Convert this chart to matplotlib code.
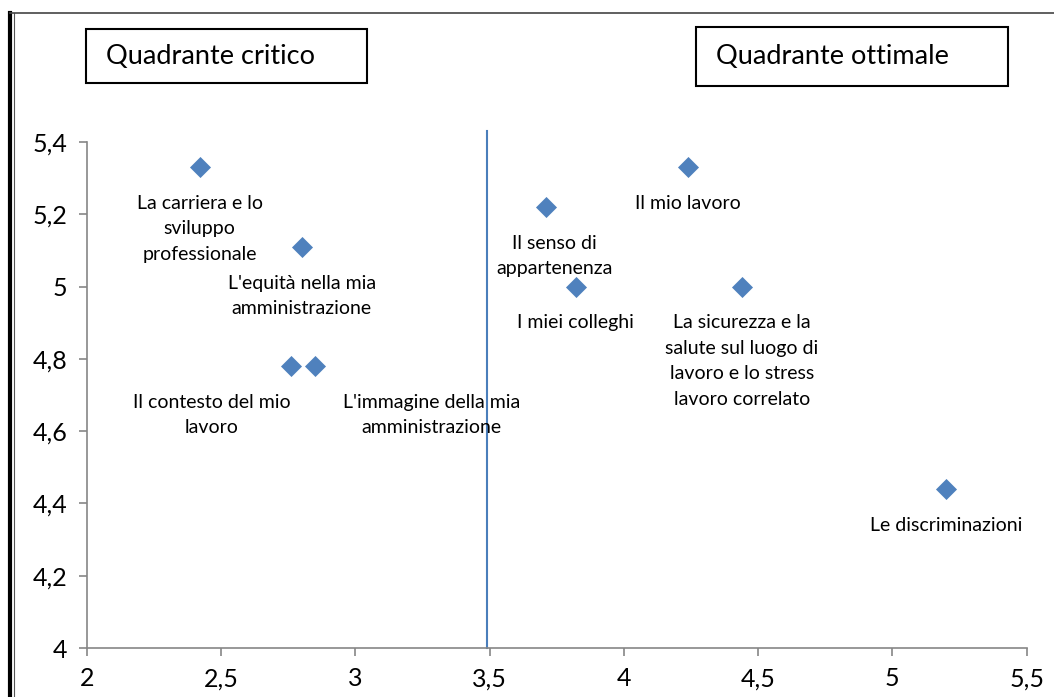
import matplotlib.pyplot as plt
from matplotlib.lines import Line2D
from matplotlib.patches import Rectangle
from matplotlib.ticker import FuncFormatter

plt.rcParams['font.family'] = ['Lato', 'DejaVu Sans']

# dati del grafico
labels = ["La carriera e lo\nsviluppo\nprofessionale",
          "L'equità nella mia\namministrazione",
          "Il contesto del mio\nlavoro",
          "L'immagine della mia\namministrazione",
          "Il senso di\nappartenenza",
          "Il mio lavoro",
          "I miei colleghi",
          "La sicurezza e la\nsalute sul luogo di\nlavoro e lo stress\nlavoro correlato",
          "Le discriminazioni"]
x_vals = [2.42, 2.80, 2.76, 2.85, 3.71, 4.24, 3.82, 4.44, 5.20]
y_vals = [5.33, 5.11, 4.78, 4.78, 5.22, 5.33, 5.00, 5.00, 4.44]
label_dx = [0, 0, -57, 84, 6, 0, 0, 0, 0]  # spostamento etichette (pt)
x_ticks = [2, 2.5, 3, 3.5, 4, 4.5, 5, 5.5]
y_ticks = [4, 4.2, 4.4, 4.6, 4.8, 5, 5.2, 5.4]
soglia_x = 3.49

W, H = 1054, 697
fig = plt.figure(figsize=(W / 100, H / 100), dpi=100)
ax = fig.add_axes([0.0825, 0.0703, 0.974 - 0.0825, 0.7963 - 0.0703])

ax.scatter(x_vals, y_vals, marker='D', s=115, color='#4F81BD', zorder=3, linewidths=0)
for lab, x, y, dx in zip(labels, x_vals, y_vals, label_dx):
    ax.annotate(lab, (x, y), xytext=(dx, -20), textcoords='offset points',
                ha='center', va='top', fontsize=14, multialignment='center',
                linespacing=1.6, color='black')

# linea verticale di separazione
ax.plot([soglia_x, soglia_x], [4, 5.43], color='#4A7EBB', lw=1.5, clip_on=False, zorder=2)

ax.set_xlim(2, 5.5)
ax.set_ylim(4, 5.4)
ax.set_xticks(x_ticks)
ax.set_yticks(y_ticks)
fmt = FuncFormatter(lambda v, p: ('%g' % v).replace('.', ','))
ax.xaxis.set_major_formatter(fmt)
ax.yaxis.set_major_formatter(fmt)
for s in ['top', 'right']:
    ax.spines[s].set_visible(False)
for s in ['left', 'bottom']:
    ax.spines[s].set_color('#868686')
    ax.spines[s].set_linewidth(1.2)
ax.tick_params(direction='out', length=6, width=1.2, color='#868686', labelsize=18, pad=8)

# riquadri dei quadranti
def riquadro(x0, y0, x1, y1, testo, tx):
    fig.add_artist(Rectangle((x0 / W, 1 - y1 / H), (x1 - x0) / W, (y1 - y0) / H,
                             transform=fig.transFigure, fc='white', ec='black', lw=1.5))
    fig.text(tx / W, 1 - (y0 + y1) / 2 / H, testo, fontsize=19.5, va='center', ha='left')

riquadro(86, 29, 367, 83, "Quadrante critico", 106)
riquadro(696, 27, 1008, 86, "Quadrante ottimale", 716)

# cornice esterna
fig.add_artist(Line2D([10 / W, 10 / W], [0, 1 - 13 / H], transform=fig.transFigure, color='black', lw=3))
fig.add_artist(Line2D([14 / W, 14 / W], [0, 1 - 13 / H], transform=fig.transFigure, color='#555555', lw=0.8))
fig.add_artist(Line2D([10 / W, 1], [1 - 13 / H, 1 - 13 / H], transform=fig.transFigure, color='#444444', lw=1.2))

fig.savefig('out.png', dpi=100)
